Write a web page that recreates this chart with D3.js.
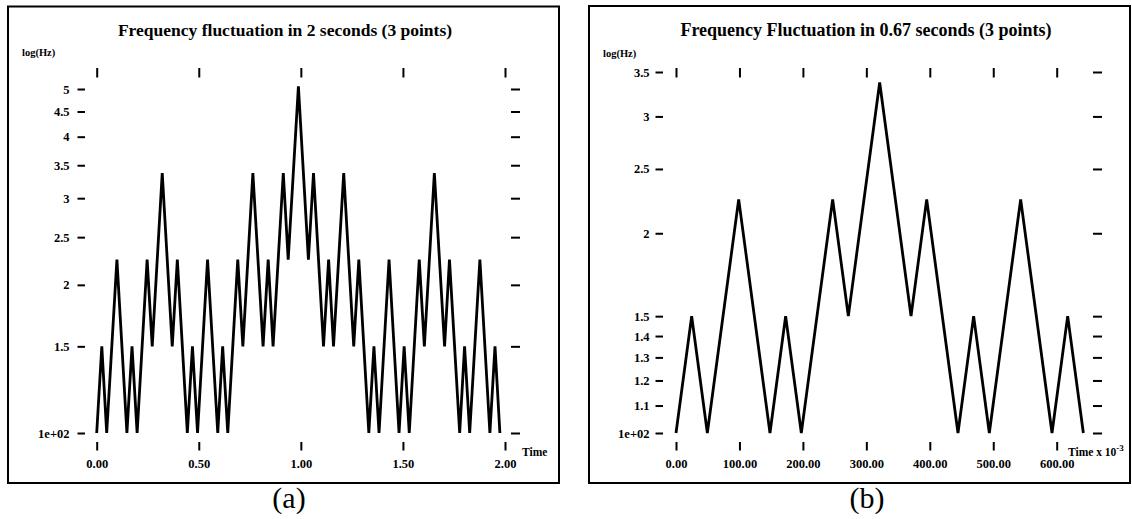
<!DOCTYPE html>
<html>
<head>
<meta charset="utf-8">
<script src="https://cdn.jsdelivr.net/npm/d3@7"></script>
<style>
  body { margin: 0; background: #fff; }
  svg { display: block; }
  text { font-family: "Liberation Serif", "Times New Roman", serif; fill: #000; }
  .axis path.domain { display: none; }
  .axis line { stroke: #000; stroke-width: 2; }
  .axis text { font-size: 12.5px; font-weight: bold; }
</style>
</head>
<body>
<div id="chart"></div>
<script>
// panel (a): frequency fluctuation in 2 seconds, time in seconds, frequency in Hz
const timesA = [0, 0.025, 0.049, 0.099, 0.148, 0.173, 0.198, 0.247, 0.272, 0.321, 0.370, 0.395,
  0.444, 0.469, 0.494, 0.543, 0.593, 0.617, 0.642, 0.691, 0.716, 0.765, 0.815, 0.840, 0.864,
  0.914, 0.938, 0.988, 1.037, 1.062, 1.111, 1.136, 1.160, 1.210, 1.259, 1.284, 1.333, 1.358,
  1.383, 1.432, 1.481, 1.506, 1.531, 1.580, 1.605, 1.654, 1.704, 1.728, 1.778, 1.802, 1.827,
  1.877, 1.926, 1.951, 1.975];
const hzA = [100, 150, 100, 225, 100, 150, 100, 225, 150, 337.5, 150, 225,
  100, 150, 100, 225, 100, 150, 100, 225, 150, 337.5, 150, 225, 150,
  337.5, 225, 506.25, 225, 337.5, 150, 225, 150, 337.5, 150, 225, 100, 150,
  100, 225, 100, 150, 100, 225, 150, 337.5, 150, 225, 100, 150, 100,
  225, 100, 150, 100];
const xTicksA = [0, 0.5, 1, 1.5, 2];
const yTicksA = [100, 150, 200, 250, 300, 350, 400, 450, 500];

// panel (b): frequency fluctuation in 0.67 seconds, time in ms
const timesB = [0, 24.7, 49.4, 98.8, 148.1, 172.8, 197.5, 246.9, 271.6, 321.0, 370.4, 395.1,
  444.4, 469.1, 493.8, 543.2, 592.6, 617.3, 642.0];
const hzB = [100, 150, 100, 225, 100, 150, 100, 225, 150, 337.5, 150, 225,
  100, 150, 100, 225, 100, 150, 100];
const xTicksB = [0, 100, 200, 300, 400, 500, 600];
const yTicksB = [100, 110, 120, 130, 140, 150, 200, 250, 300, 350];

const width = 1132, height = 519;

const svg = d3.select("#chart")
  .append("svg")
  .attr("width", width)
  .attr("height", height);

const yFormat = d => d === 100 ? "1e+02" : String(d / 100);

function panel(cfg) {
  const g = svg.append("g");

  // frame
  g.append("rect")
    .attr("x", cfg.box[0]).attr("y", cfg.box[1])
    .attr("width", cfg.box[2]).attr("height", cfg.box[3])
    .attr("fill", "none").attr("stroke", "#000").attr("stroke-width", 2);

  const x = d3.scaleLinear().domain(cfg.xDomain).range(cfg.xRange);
  const y = d3.scaleLog().domain(cfg.yDomain).range([433, cfg.yTop]);

  // bottom ticks + labels
  g.append("g").attr("class", "axis")
    .attr("transform", "translate(0,442)")
    .call(d3.axisBottom(x).tickValues(cfg.xTicks).tickSize(8.5).tickPadding(9)
      .tickFormat(d3.format(".2f")));

  // top ticks
  g.append("g").attr("class", "axis")
    .attr("transform", "translate(0,77.5)")
    .call(d3.axisTop(x).tickValues(cfg.xTicks).tickSize(9.5).tickFormat(""));

  // left ticks + labels
  g.append("g").attr("class", "axis")
    .attr("transform", `translate(${cfg.leftX},0)`)
    .call(d3.axisLeft(y).tickValues(cfg.yTicks).tickSize(7.5).tickPadding(cfg.leftPad)
      .tickFormat(yFormat));

  // right ticks
  g.append("g").attr("class", "axis")
    .attr("transform", `translate(${cfg.rightX},0)`)
    .call(d3.axisRight(y).tickValues(cfg.yTicks).tickSize(9).tickFormat(""));

  // the curve
  const line = d3.line()
    .x(d => x(d[0]))
    .y(d => y(d[1]));
  g.append("path")
    .datum(d3.zip(cfg.times, cfg.hz))
    .attr("d", line)
    .attr("fill", "none")
    .attr("stroke", "#000")
    .attr("stroke-width", 2.8);

  // title
  g.append("text")
    .attr("x", cfg.titleX).attr("y", 36)
    .attr("text-anchor", "middle")
    .style("font-size", cfg.titleSize).style("font-weight", "bold")
    .text(cfg.title);

  // y unit
  g.append("text")
    .attr("x", cfg.unitX).attr("y", cfg.unitY)
    .style("font-size", "10.5px").style("font-weight", "bold")
    .text("log(Hz)");

  // x unit
  const t = g.append("text")
    .attr("x", cfg.timeX).attr("y", 456)
    .style("font-size", "11.5px").style("font-weight", "bold");
  t.append("tspan").text(cfg.timeLabel);
  if (cfg.timeSup) {
    t.append("tspan").attr("dy", -5).style("font-size", "9px").text(cfg.timeSup);
  }

  // caption
  g.append("text")
    .attr("x", cfg.capX).attr("y", 508)
    .attr("text-anchor", "middle")
    .style("font-size", "30px")
    .text(cfg.caption);
}

panel({
  box: [8, 6.5, 551, 476.5],
  xDomain: [0, 2], xRange: [96.7, 505],
  yDomain: [100, 500], yTop: 89,
  xTicks: xTicksA, yTicks: yTicksA,
  leftX: 85, leftPad: 8, rightX: 511,
  times: timesA, hz: hzA,
  title: "Frequency fluctuation in 2 seconds (3 points)", titleX: 285, titleSize: "17.5px",
  unitX: 22, unitY: 56,
  timeX: 522, timeLabel: "Time", timeSup: null,
  caption: "(a)", capX: 289
});

panel({
  box: [589, 6, 541, 477],
  xDomain: [0, 600], xRange: [676, 1056.7],
  yDomain: [100, 350], yTop: 72,
  xTicks: xTicksB, yTicks: yTicksB,
  leftX: 663, leftPad: 6, rightX: 1093,
  times: timesB, hz: hzB,
  title: "Frequency Fluctuation in 0.67 seconds (3 points)", titleX: 866, titleSize: "18px",
  unitX: 603, unitY: 57,
  timeX: 1068, timeLabel: "Time x 10", timeSup: "-3",
  caption: "(b)", capX: 867
});
</script>
</body>
</html>
